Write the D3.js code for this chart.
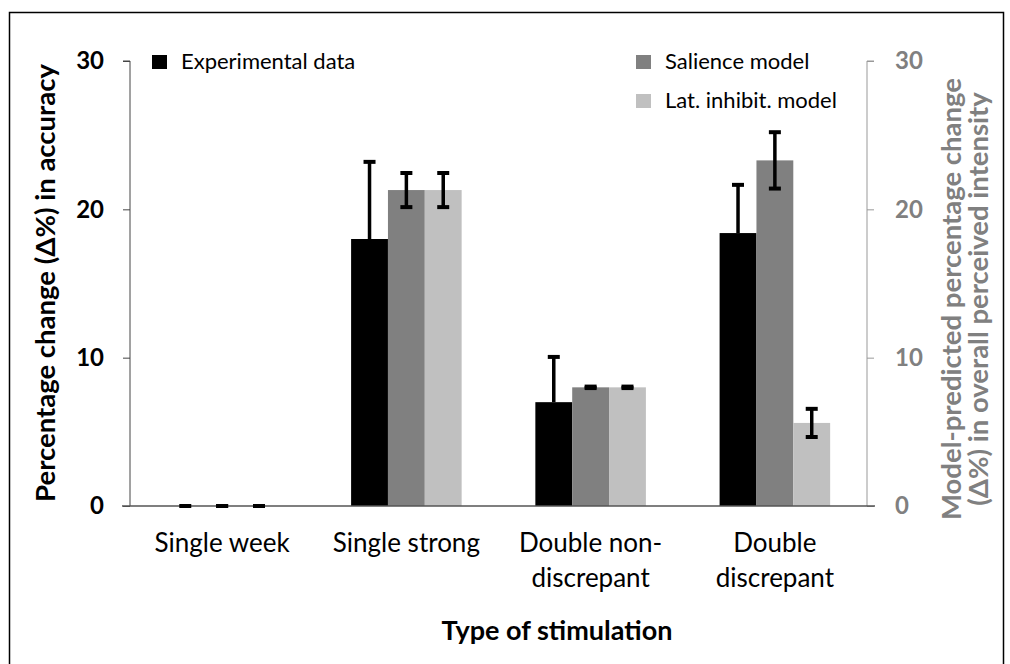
<!DOCTYPE html>
<html><head><meta charset="utf-8">
<script src="https://cdn.jsdelivr.net/npm/d3@7"></script>
<style>body{margin:0;background:#fff}svg{display:block;font-family:Lato,"Open Sans",sans-serif}</style>
</head><body><svg id="c" width="1010" height="664"></svg>
<script>
const categories = [["Single week"],["Single strong"],["Double non-","discrepant"],["Double","discrepant"]];
const seriesNames = ["Experimental data","Salience model","Lat. inhibit. model"];
const experimental = [0, 18.0, 7.0, 18.4];
const experimentalErr = [0, 5.2, 3.05, 3.25];
const salience = [0, 21.3, 8.0, 23.3];
const salienceErr = [0, 1.15, 0.05, 1.9];
const latInhibit = [0, 21.3, 8.0, 5.6];
const latInhibitErr = [0, 1.15, 0.05, 0.95];
const yTicks = [0, 10, 20, 30];
const colors = ["#000000","#808080","#c0c0c0"];

const svg = d3.select("#c");
svg.append("path").attr("d","M9.5,700 V12.5 H1003.5 V700").attr("fill","none").attr("stroke","#000").attr("stroke-width",1.5);

const pL=130, pR=867, pT=61, pB=506;
const x0 = d3.scaleBand().domain(d3.range(categories.length)).range([pL,pR]).paddingInner(0.4).paddingOuter(0.2);
const x1 = d3.scaleBand().domain(d3.range(3)).range([0,x0.bandwidth()]);
const y = d3.scaleLinear().domain([0,30]).range([pB,pT]);

const vals=[experimental,salience,latInhibit], errs=[experimentalErr,salienceErr,latInhibitErr];

// axes
const gL = svg.append("g").attr("transform",`translate(${pL},0)`)
  .call(d3.axisLeft(y).tickValues(yTicks).tickSize(7).tickPadding(19));
gL.select(".domain").attr("stroke","#444").attr("d",`M-7,${pT}H0V${pB}`);
gL.selectAll(".tick line").attr("stroke","#444");
gL.selectAll("text").attr("font-size",24).attr("font-weight","bold").attr("fill","#000").attr("font-family","Lato");

const gR = svg.append("g").attr("transform",`translate(${pR},0)`)
  .call(d3.axisRight(y).tickValues(yTicks).tickSize(7).tickPadding(21));
gR.select(".domain").attr("stroke","#999").attr("d",`M7,${pT}H0V${pB}`);
gR.selectAll(".tick line").attr("stroke","#999");
gR.selectAll("text").attr("font-size",24).attr("font-weight","bold").attr("fill","#808080").attr("font-family","Lato");

// bars
for(let s=0;s<3;s++){
  svg.append("g").selectAll("rect").data(vals[s]).join("rect")
    .attr("x",(d,i)=>x0(i)+x1(s)).attr("width",x1.bandwidth())
    .attr("y",d=>y(d)).attr("height",d=>pB-y(d)).attr("fill",colors[s]);
}
svg.append("line").attr("x1",122).attr("x2",875).attr("y1",pB).attr("y2",pB).attr("stroke","#555").attr("stroke-width",1.5);

// error bars
for(let s=0;s<3;s++){
  const g=svg.append("g").attr("stroke","#000");
  vals[s].forEach((v,i)=>{
    const cx=x0(i)+x1(s)+x1.bandwidth()/2;
    const hi=v+errs[s][i], lo = s===0? v : v-errs[s][i];
    g.append("line").attr("x1",cx).attr("x2",cx).attr("y1",y(hi)).attr("y2",y(lo)).attr("stroke-width",3.5);
    g.append("line").attr("x1",cx-6).attr("x2",cx+6).attr("y1",y(hi)).attr("y2",y(hi)).attr("stroke-width",4);
    if(s!==0) g.append("line").attr("x1",cx-6).attr("x2",cx+6).attr("y1",y(lo)).attr("y2",y(lo)).attr("stroke-width",4);
  });
}

// category labels
categories.forEach((lines,i)=>{
  const cx=x0(i)+x0.bandwidth()/2;
  const t=svg.append("text").attr("x",cx).attr("y",552).attr("text-anchor","middle")
    .attr("font-size",26).attr("fill","#000");
  lines.forEach((l,j)=>t.append("tspan").attr("x",cx).attr("dy",j?35:0).text(l));
});
svg.append("text").attr("x",557).attr("y",640).attr("text-anchor","middle").attr("font-size",27).attr("font-weight","bold").text("Type of stimulation");

// axis titles
svg.append("text").attr("transform","translate(55,283) rotate(-90)").attr("text-anchor","middle")
  .attr("font-size",27.5).attr("font-weight","bold").text("Percentage change (Δ%) in accuracy");
const rt=svg.append("text").attr("transform","translate(961,299) rotate(-90)").attr("text-anchor","middle")
  .attr("font-size",27.5).attr("font-weight","bold").attr("fill","#808080");
rt.append("tspan").attr("x",0).attr("dy",0).text("Model-predicted percentage change");
rt.append("tspan").attr("x",0).attr("dy",27).text("(Δ%) in overall perceived intensity");

// legend
const legendPos=[[152,69],[636,69],[636,108]];
seriesNames.forEach((n,i)=>{
  const [lx,ly]=legendPos[i];
  svg.append("rect").attr("x",lx).attr("y",ly-14).attr("width",15).attr("height",14).attr("fill",colors[i]);
  svg.append("text").attr("x",lx+29).attr("y",ly).attr("font-size",22).attr("fill","#000").text(n);
});
</script></body></html>
